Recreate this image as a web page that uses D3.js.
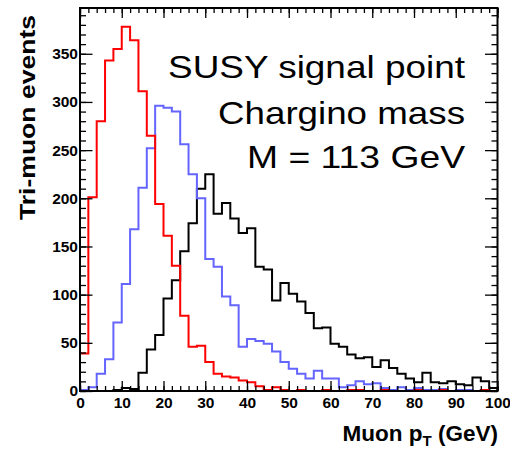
<!DOCTYPE html>
<html>
<head>
<meta charset="utf-8">
<script src="https://cdn.jsdelivr.net/npm/d3@7"></script>
<style>
  body { margin: 0; background: #fff; }
  text { font-family: "Liberation Sans", Arial, sans-serif; }
</style>
</head>
<body>
<div id="main"></div>
<script>
// Width and height of the SVG object
const w = 510;
const h = 453;

// bins are 2 GeV wide, from 0 to 100 GeV (low edges)
const binEdges = d3.range(0, 100, 2);

// events per bin
const redCounts = [39, 201, 280, 343, 355, 378, 364, 311, 265, 194,
  161, 130, 78, 46, 47, 30, 18, 15, 14, 11,
  9, 5, 1, 4, 1, 0, 1, 0, 0, 1,
  0, 0, 1, 1, 0, 0, 1, 0, 0, 0,
  1, 0, 0, 1, 0, 0, 0, 0, 1, 0];
const blueCounts = [1, 4, 18, 33, 71, 111, 168, 211, 252, 296,
  294, 290, 256, 225, 200, 137, 129, 98, 89, 46,
  54, 52, 49, 41, 30, 23, 18, 13, 21, 13,
  13, 4, 6, 10, 7, 8, 3, 1, 4, 1,
  3, 1, 1, 2, 0, 1, 1, 0, 1, 0];
const blackCounts = [0, 0, 0, 0, 1, 3, 2, 19, 43, 58,
  96, 115, 145, 174, 210, 225, 184, 195, 179, 164,
  169, 129, 126, 94, 112, 101, 93, 81, 65, 66,
  49, 46, 38, 34, 35, 25, 32, 24, 18, 13,
  9, 19, 9, 8, 10, 7, 6, 14, 10, 3];

// axis ticks
const xMajor = [0, 10, 20, 30, 40, 50, 60, 70, 80, 90, 100];
const xMinor = d3.range(0, 101, 2);
const yMajor = [0, 50, 100, 150, 200, 250, 300, 350];
const yMinor = d3.range(0, 391, 10);

const infoLines = ['SUSY signal point', 'Chargino mass', 'M = 113 GeV'];

// frame of the plot
const fLeft = 80, fRight = 497.5, fTop = 8, fBottom = 391;

const x = d3.scaleLinear().domain([0, 100]).range([fLeft, fRight]);
const y = d3.scaleLinear().domain([0, 397.5]).range([fBottom, fTop]);

//Make an SVG Container
const svg = d3
  .select('div#main')
  .append('svg')
  .attr('width', w)
  .attr('height', h);

// Draw the histograms (black first, red on top)
const line = d3
  .line()
  .x((d) => x(d[0]))
  .y((d) => y(d[1]))
  .curve(d3.curveStepAfter);

function histPoints(counts) {
  const pts = [[0, 0]];
  counts.forEach((c, i) => pts.push([binEdges[i], c]));
  pts.push([100, counts[counts.length - 1]]);
  pts.push([100, 0]);
  return pts;
}

const series = [
  { counts: blackCounts, color: '#000000' },
  { counts: blueCounts, color: '#6464ff' },
  { counts: redCounts, color: '#ff0000' },
];

svg
  .selectAll('path.hist')
  .data(series)
  .enter()
  .append('path')
  .attr('class', 'hist')
  .attr('d', (d) => line(histPoints(d.counts)))
  .attr('fill', 'none')
  .attr('stroke', (d) => d.color)
  .attr('stroke-width', 2)
  .attr('stroke-linejoin', 'miter');

// Axes - ticks point into the frame on all four sides
function styleAxis(g) {
  g.select('.domain').remove();
  g.selectAll('line').attr('stroke', '#000').attr('stroke-width', 1.3);
  g.selectAll('text')
    .attr('fill', '#000')
    .style('font-size', '15.5px')
    .style('font-weight', 'bold')
    .style('font-family', '"Liberation Sans", Arial, sans-serif');
}

svg.append('g')
  .attr('transform', `translate(0,${fBottom})`)
  .call(d3.axisBottom(x).tickValues(xMinor).tickSize(-5).tickFormat(''))
  .call(styleAxis);
svg.append('g')
  .attr('transform', `translate(0,${fBottom})`)
  .call(d3.axisBottom(x).tickValues(xMajor).tickSize(-10).tickPadding(6).tickFormat(d3.format('d')))
  .call(styleAxis);
svg.append('g')
  .attr('transform', `translate(0,${fTop})`)
  .call(d3.axisTop(x).tickValues(xMinor).tickSize(-5).tickFormat(''))
  .call(styleAxis);
svg.append('g')
  .attr('transform', `translate(0,${fTop})`)
  .call(d3.axisTop(x).tickValues(xMajor).tickSize(-10).tickFormat(''))
  .call(styleAxis);

svg.append('g')
  .attr('transform', `translate(${fLeft},0)`)
  .call(d3.axisLeft(y).tickValues(yMinor).tickSize(-6).tickFormat(''))
  .call(styleAxis);
svg.append('g')
  .attr('transform', `translate(${fLeft},0)`)
  .call(d3.axisLeft(y).tickValues(yMajor).tickSize(-12.5).tickPadding(2).tickFormat(d3.format('d')))
  .call(styleAxis);
svg.append('g')
  .attr('transform', `translate(${fRight},0)`)
  .call(d3.axisRight(y).tickValues(yMinor).tickSize(-6).tickFormat(''))
  .call(styleAxis);
svg.append('g')
  .attr('transform', `translate(${fRight},0)`)
  .call(d3.axisRight(y).tickValues(yMajor).tickSize(-12.5).tickFormat(''))
  .call(styleAxis);

// Frame
svg.append('rect')
  .attr('x', fLeft)
  .attr('y', fTop)
  .attr('width', fRight - fLeft)
  .attr('height', fBottom - fTop)
  .attr('fill', 'none')
  .attr('stroke', '#000')
  .attr('stroke-width', 2);

// Axis titles
const xTitle = svg.append('text')
  .attr('x', 498)
  .attr('y', 441)
  .attr('text-anchor', 'end')
  .style('font-size', '22.5px')
  .style('font-weight', 'bold');
xTitle.append('tspan').text('Muon p');
xTitle.append('tspan').attr('dy', 5).style('font-size', '15px').text('T');
xTitle.append('tspan').attr('dy', -5).text(' (GeV)');

svg.append('text')
  .attr('transform', 'translate(35,220) rotate(-90)')
  .attr('text-anchor', 'start')
  .attr('textLength', 205)
  .attr('lengthAdjust', 'spacingAndGlyphs')
  .style('font-size', '22px')
  .style('font-weight', 'bold')
  .text('Tri-muon events');

// Info text, right aligned
const infoWidths = [297, 247, 218];
const infoBase = [78, 124, 168];
svg.selectAll('text.info')
  .data(infoLines)
  .enter()
  .append('text')
  .attr('class', 'info')
  .attr('x', (d, i) => 465 - infoWidths[i])
  .attr('y', (d, i) => infoBase[i])
  .attr('textLength', (d, i) => infoWidths[i])
  .attr('lengthAdjust', 'spacingAndGlyphs')
  .style('font-size', '32px')
  .text((d) => d);
</script>
</body>
</html>
